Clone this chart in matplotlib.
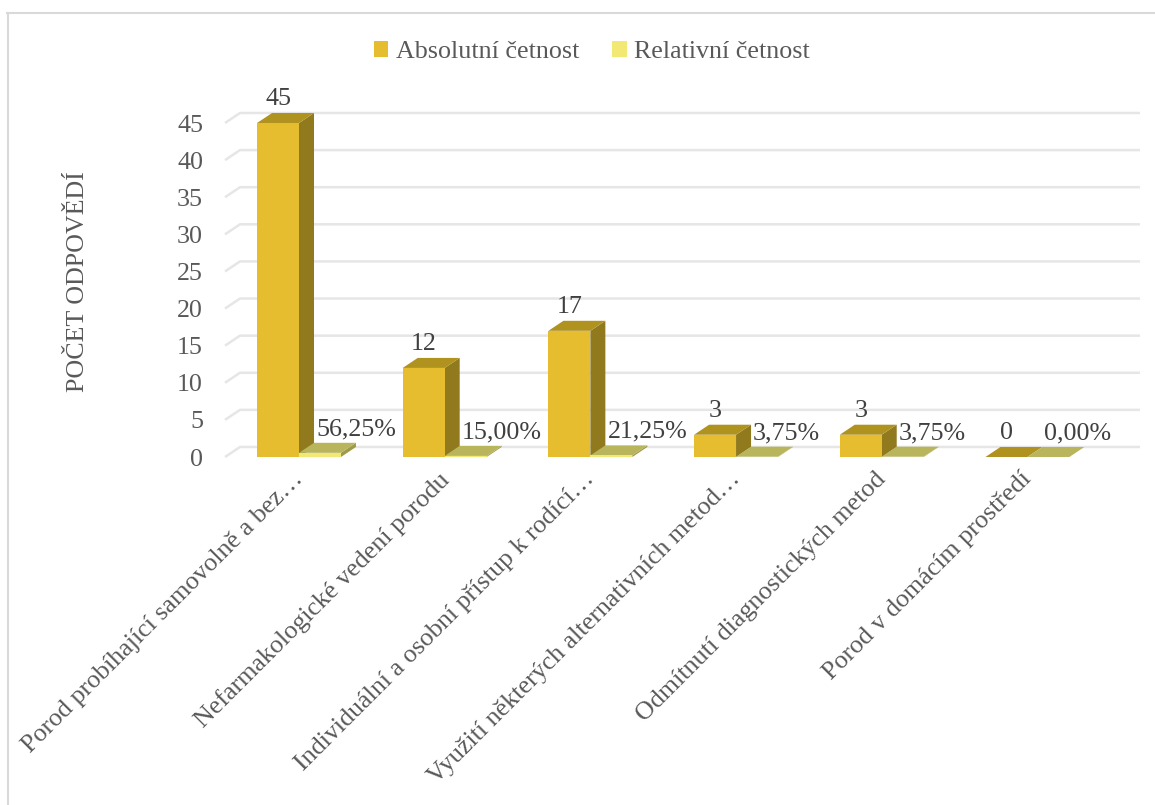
import matplotlib
matplotlib.use("Agg")
import matplotlib.pyplot as plt
from matplotlib.patches import Polygon, Rectangle, Patch
from matplotlib.lines import Line2D

plt.rcParams["font.family"] = ["Liberation Serif", "DejaVu Serif"]

categories = [
    "Porod probíhající samovolně a bez…",
    "Nefarmakologické vedení porodu",
    "Individuální a osobní přístup k rodící…",
    "Využití některých alternativních metod…",
    "Odmítnutí diagnostických metod",
    "Porod v domácím prostředí",
]
absolute = [45, 12, 17, 3, 3, 0]
relative = [0.5625, 0.15, 0.2125, 0.0375, 0.0375, 0.0]
series_names = ["Absolutní četnost", "Relativní četnost"]
yticks = [0, 5, 10, 15, 20, 25, 30, 35, 40, 45]

# colours: front, top, side
abs_col = ("#E6BD2E", "#B0921F", "#917A1E")
rel_col = ("#F2E874", "#B9B55C", "#9E9A48")
grid_col = "#E6E6E6"
txt_col = "#595959"
lab_col = "#404040"

W, H = 1155, 805
fig = plt.figure(figsize=(W / 100, H / 100), dpi=100)
ax = fig.add_axes([225 / W, 348 / H, 900 / W, 334 / H])
ax.set_xlim(-0.508, 5.67)
ax.set_ylim(0, 45)

bw = 0.288   # bar width (category units)
ddx = 0.103  # depth offset x
ddy = 1.35   # depth offset y (value units)


def box(x0, h, cols):
    front, top, side = cols
    ax.add_patch(Polygon([(x0 + bw, 0), (x0 + bw + ddx, ddy), (x0 + bw + ddx, h + ddy), (x0 + bw, h)],
                         closed=True, fc=side, ec="none", clip_on=False, zorder=3))
    ax.add_patch(Polygon([(x0, h), (x0 + bw, h), (x0 + bw + ddx, h + ddy), (x0 + ddx, h + ddy)],
                         closed=True, fc=top, ec="none", clip_on=False, zorder=3))
    if h > 0:
        ax.add_patch(Rectangle((x0, 0), bw, h, fc=front, ec="none", clip_on=False, zorder=3))


# back-wall gridlines with the floor edge
x_left, x_right = ax.get_xlim()
for v in yticks:
    ax.plot([x_left, x_left + ddx, x_right + ddx], [v, v + ddy, v + ddy],
            color=grid_col, lw=1.8, clip_on=False, zorder=1, solid_capstyle="butt")

for i, (a, r) in enumerate(zip(absolute, relative)):
    box(i - bw, a, abs_col)
    box(i, r, rel_col)
    ax.annotate(str(a), (i - bw / 2, a), xytext=(0, 17), textcoords="offset points",
                ha="center", va="center", fontsize=18.7, color=lab_col, zorder=5)
    ax.annotate(f"{r * 100:.2f}%".replace(".", ","), (i + bw / 2 - 0.027, r), xytext=(0, 17),
                textcoords="offset points", ha="left", va="center", fontsize=18.7,
                color=lab_col, zorder=5)

for sp in ax.spines.values():
    sp.set_visible(False)
ax.set_xticks([])
ax.set_yticks(yticks)
ax.set_yticklabels([str(v) for v in yticks], fontsize=18.7, color=txt_col)
ax.tick_params(axis="y", length=0, pad=15.8)

for i, name in enumerate(categories):
    ax.annotate(name, (i - 0.03, 0), xytext=(-2, -8), textcoords="offset points",
                rotation=45, rotation_mode="anchor", ha="right", va="top",
                fontsize=18.7, color=txt_col)

fig.text(78 / W, 1 - 282 / H, "POČET ODPOVĚDÍ", rotation=90, ha="center", va="center",
         fontsize=18.7, color=txt_col)

handles = [Patch(fc=abs_col[0], ec="none"), Patch(fc=rel_col[0], ec="none")]
fig.legend(handles, series_names, loc="center", bbox_to_anchor=(592 / W, 1 - 52 / H), ncol=2,
           frameon=False, fontsize=18.7, labelcolor=txt_col, handlelength=0.55,
           handleheight=0.55, handletextpad=0.3, columnspacing=1.27, borderpad=0)

# outer chart frame (left and top edges visible)
fig.add_artist(Line2D([7.5 / W, 7.5 / W], [0, 1 - 13 / H], color="#D9D9D9", lw=1.5))
fig.add_artist(Line2D([7 / W, 1], [1 - 13.5 / H, 1 - 13.5 / H], color="#D9D9D9", lw=1.5))

fig.savefig("out.png", dpi=100)
